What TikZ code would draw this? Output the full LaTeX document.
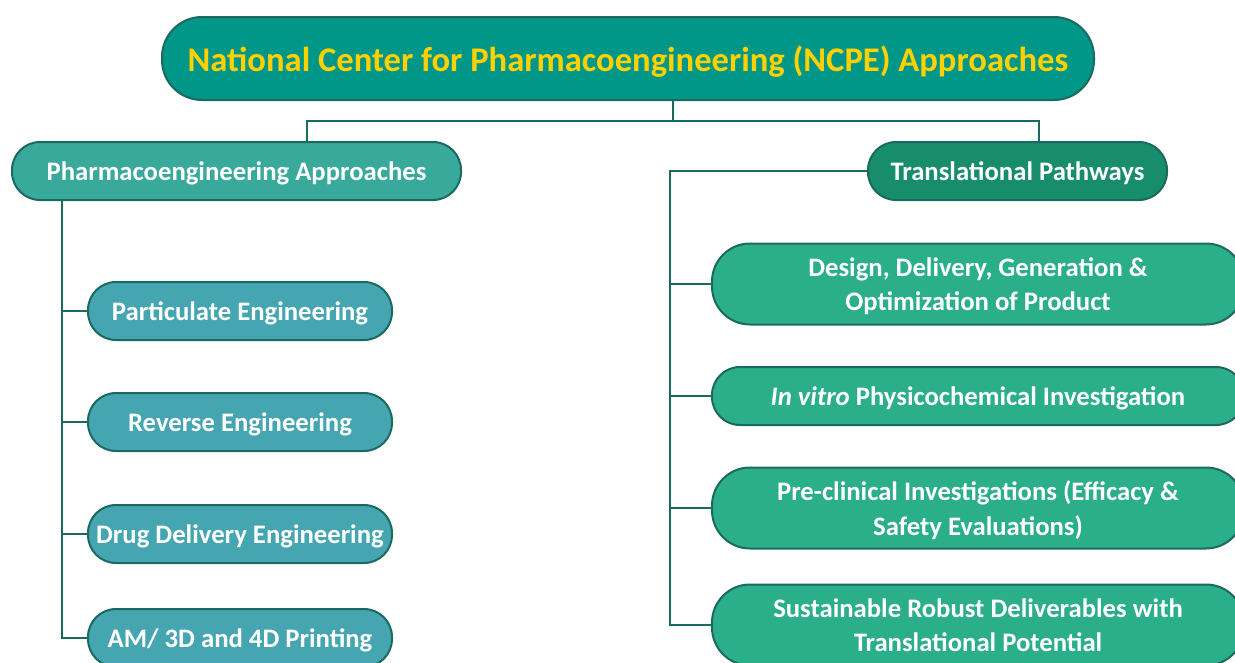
\documentclass[tikz,border=0pt]{standalone}
\usepackage{fontspec}
\setmainfont{Carlito}
\usepackage{xcolor}
\usepackage{tikz}
\usetikzlibrary{positioning,calc}
\definecolor{edgecol}{HTML}{1B6A5F}
\definecolor{titlefill}{HTML}{009688}
\definecolor{titletext}{HTML}{FFD100}
\definecolor{leftfill}{HTML}{38A99A}
\definecolor{rightfill}{HTML}{178D6B}
\definecolor{leftleaf}{HTML}{45A6B2}
\definecolor{rightleaf}{HTML}{2BAE8A}

\begin{document}
\begin{tikzpicture}[
  x=1pt, y=-1pt,
  font=\bfseries,
  box/.style={draw=edgecol, line width=2pt, align=center, text=white, inner sep=0pt, text depth=0pt},
  titlebox/.style={box, fill=titlefill, text=titletext, minimum width=932pt, minimum height=83pt, rounded corners=40pt, font=\fontsize{34.6}{40}\bfseries\selectfont},
  headL/.style={box, fill=leftfill, minimum width=449pt, minimum height=58pt, rounded corners=28pt, font=\fontsize{26.7}{32}\bfseries\selectfont},
  headR/.style={box, fill=rightfill, minimum width=299pt, minimum height=58pt, rounded corners=28pt, font=\fontsize{26.7}{32}\bfseries\selectfont},
  leafL/.style={box, fill=leftleaf, minimum width=304pt, minimum height=58pt, rounded corners=28pt, font=\fontsize{26.7}{32}\bfseries\selectfont},
  leafR/.style={box, fill=rightleaf, minimum width=532pt, minimum height=58pt, rounded corners=28pt, font=\fontsize{26.7}{34.5}\bfseries\selectfont},
  tallR/.style={leafR, minimum height=81pt, rounded corners=38pt},
  line/.style={draw=edgecol, line width=2.2pt},
]
\useasboundingbox (0,0) rectangle (1235,662);
\clip (0,0) rectangle (1235,662);

% Title
\node[titlebox] (title) at (628,58.5) {National Center for Pharmacoengineering (NCPE) Approaches};

% Two main branches
\node[headL] (pa) at (236.5,171) {Pharmacoengineering Approaches};
\node[headR] (tp) at (1017.5,171) {Translational Pathways};

% Left column
\node[leafL] (pe) at (240,311) {Particulate Engineering};
\node[leafL] (re) at (240,422) {Reverse Engineering};
\node[leafL] (dde) at (240,534) {Drug Delivery Engineering};
\node[leafL] (am) at (240,638) {AM/ 3D and 4D Printing};

% Right column
\node[tallR] (ddg) at (978,284) {Design, Delivery, Generation \&\\Optimization of Product};
\node[leafR] (iv) at (978,396) {\textit{In vitro} Physicochemical Investigation};
\node[tallR] (pci) at (978,508) {Pre-clinical Investigations (Efficacy \&\\Safety Evaluations)};
\node[tallR] (srd) at (978,625) {Sustainable Robust Deliverables with\\Translational Potential};

% Junctions
\coordinate (stem) at (673,121);
\coordinate (brL) at (307,121);
\coordinate (brR) at (1039,121);
\coordinate (spineL) at (62,0);
\coordinate (spineR) at (670,0);

% Edges
\draw[line] (title.south -| stem) -- (stem);
\draw[line] (pa.north -| brL) |- (brR) -- (tp.north -| brR);

\draw[line] (pa.south -| spineL) |- (am.west);
\draw[line] (spineL |- pe.west) -- (pe.west);
\draw[line] (spineL |- re.west) -- (re.west);
\draw[line] (spineL |- dde.west) -- (dde.west);

\draw[line] (tp.west) -| (spineR |- srd.west) -- (srd.west);
\draw[line] (spineR |- ddg.west) -- (ddg.west);
\draw[line] (spineR |- iv.west) -- (iv.west);
\draw[line] (spineR |- pci.west) -- (pci.west);

\end{tikzpicture}
\end{document}
